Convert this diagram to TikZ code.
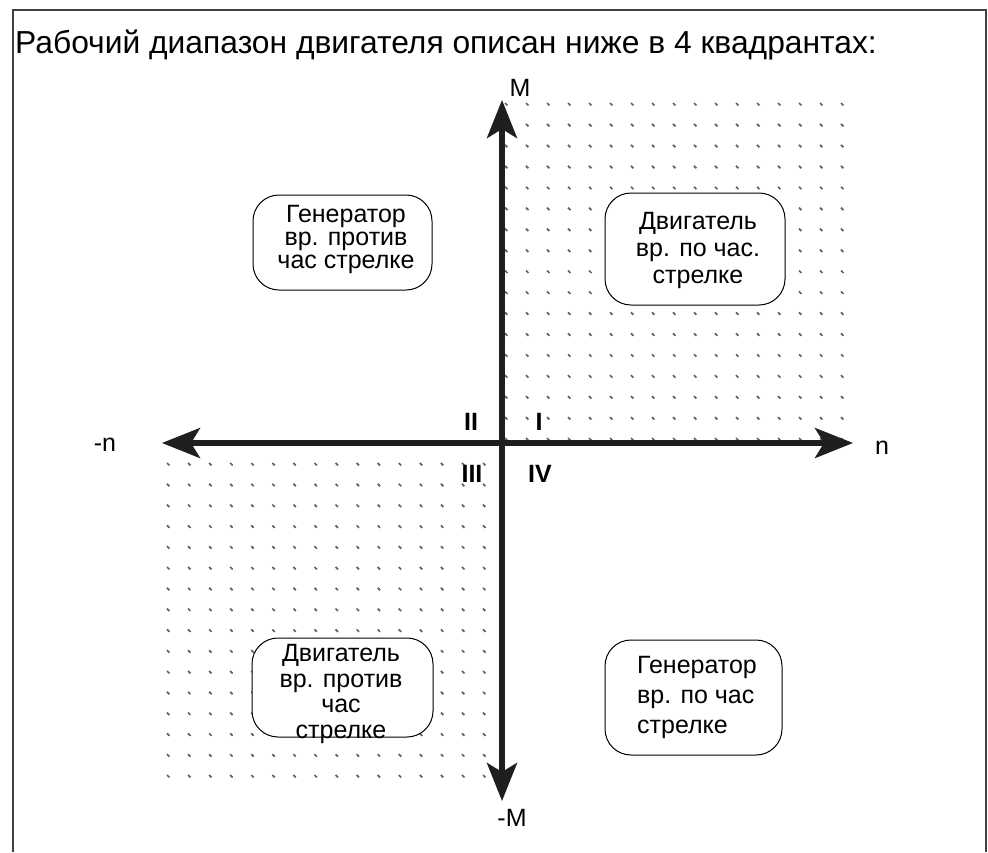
\documentclass[tikz,border=0pt]{standalone}
\usepackage{fontspec}
\setmainfont{Liberation Sans}
\usepackage{tikz}
\usetikzlibrary{arrows.meta,calc}
\newcommand{\quadfont}[1]{\fontsize{25}{#1}\selectfont}

\begin{document}
\begin{tikzpicture}[x=1pt,y=-1pt]
\tikzstyle{frame}=[draw=black!75,line width=1.4pt]
\tikzstyle{griddot}=[draw=black!62,line width=1.7pt]
\tikzstyle{axis}=[draw=black!88,line width=5.5pt,{Stealth[length=38pt,width=30pt,inset=9pt]}-{Stealth[length=38pt,width=30pt,inset=9pt]}]
\tikzstyle{quad box}=[draw=black,line width=1pt,fill=white,rounded corners=26pt]
\tikzstyle{quad text}=[align=center,inner sep=0pt]
\tikzstyle{axis label}=[inner sep=0pt,font=\quadfont{26}]
\tikzstyle{roman}=[inner sep=0pt,font=\fontsize{25}{26}\selectfont\bfseries]
\useasboundingbox (0,0) rectangle (988,852);

% frame, open at the bottom
\draw[frame] (13,852) -- (13,10) -- (986,10) -- (986,852);

\node[anchor=base west,inner sep=0pt,font=\fontsize{31.8}{34}\selectfont] (title) at (15,53)
  {Рабочий диапазон двигателя описан ниже в 4 квадрантах:};

% dotted quadrants I and III
\foreach \i in {0,...,16}
  \foreach \j in {0,...,16}
    \draw[griddot] ({505+21*\i},{103+20.94*\j}) -- ++(2.4,2.4);
\foreach \i in {0,...,15}
  \foreach \j in {0,...,15}
    \draw[griddot] ({167+21.07*\i},{463+20.8*\j}) -- ++(2.4,2.4);

% axes
\coordinate (nneg) at (162,443);
\coordinate (npos) at (853,443);
\coordinate (mpos) at (502,100);
\coordinate (mneg) at (502,801);
\draw[axis] (nneg) -- (npos);
\draw[axis] (mneg) -- (mpos);

\node[axis label] (nlabneg) at (105,445) {-n};
\node[axis label] (nlab) at (882,448) {n};
\node[axis label] (mlab) at (520,88) {M};
\node[axis label] (mlabneg) at (512,818) {-M};

\node[roman] (qii) at (471,422) {II};
\node[roman] (qi) at (539,422) {I};
\node[roman] (qiii) at (472,474) {III};
\node[roman] (qiv) at (540,474) {IV};

% operating modes
\node[quad box,minimum width=179pt,minimum height=95pt] (genccw) at (342.5,242.5) {};
\node[quad text,font=\quadfont{23}] (genccwtext) at (346,239) {Генератор\\вр. против\\час стрелке};

\node[quad box,minimum width=180pt,minimum height=112pt] (motcw) at (695,249) {};
\node[quad text,font=\quadfont{27}] (motcwtext) at (698,250) {Двигатель\\вр. по час.\\стрелке};

\node[quad box,minimum width=181pt,minimum height=99pt] (motccw) at (342.5,687.5) {};
\node[quad text,font=\quadfont{25.5}] (motccwtext) at (341,694) {Двигатель\\вр. против\\час\\стрелке};

\node[quad box,minimum width=177pt,minimum height=115pt] (gencw) at (693.5,697.5) {};
\node[quad text,align=left,font=\quadfont{30}] (gencwtext) at (697,697) {Генератор\\вр. по час\\стрелке};
\end{tikzpicture}
\end{document}
